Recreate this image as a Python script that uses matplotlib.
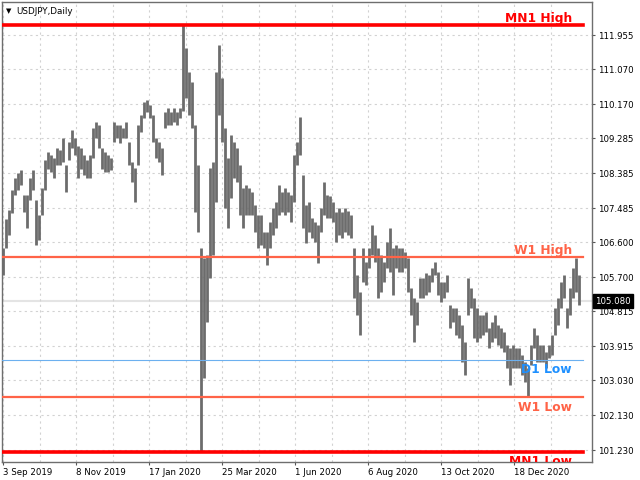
import numpy as np
import matplotlib
matplotlib.use("Agg")
import matplotlib.pyplot as plt
import matplotlib.transforms as mtransforms
from matplotlib.ticker import FixedLocator, FixedFormatter, NullFormatter

# ---------------- data ----------------
chart_title = "USDJPY,Daily"

# each bar = about two trading days, high / low prices
highs = [
    106.45, 107.20, 107.43, 107.95, 108.26, 108.40, 108.47, 107.82, 107.82, 108.26,
    108.47, 107.70, 107.30, 108.00, 108.72, 108.93, 108.85, 108.78, 109.03, 108.98,
    109.29, 108.60, 109.19, 109.50, 109.29, 109.10, 109.03, 108.85, 108.72, 108.85,
    109.55, 109.70, 109.63, 109.03, 108.93, 108.85, 108.78, 109.70, 109.63, 109.63,
    109.55, 109.70, 109.19, 108.67, 108.52, 109.63, 109.90, 110.22, 110.27, 110.15,
    109.90, 109.29, 109.19, 109.03, 109.96, 110.07, 109.96, 110.07, 109.96, 110.07,
    112.22, 111.62, 111.00, 110.74, 109.63, 108.60, 106.45, 106.20, 106.27, 108.52,
    108.67, 111.00, 111.70, 110.84, 109.55, 108.78, 109.37, 109.19, 109.03, 108.60,
    108.00, 108.08, 108.00, 107.90, 107.56, 107.30, 107.30, 106.86, 106.86, 107.12,
    107.48, 107.63, 108.08, 107.90, 108.00, 107.90, 107.82, 108.85, 109.19, 109.83,
    108.34, 107.56, 107.63, 107.23, 107.12, 107.05, 107.48, 108.15, 107.82, 107.80,
    107.63, 107.38, 107.48, 107.38, 107.48, 107.40, 107.30, 106.45, 105.75, 105.31,
    106.45, 106.09, 106.45, 107.05, 106.79, 106.45, 106.27, 106.09, 106.60, 106.97,
    106.45, 106.53, 106.45, 106.45, 106.35, 106.19, 105.42, 105.16, 105.06, 105.68,
    105.68, 105.80, 105.75, 105.93, 106.09, 105.83, 105.57, 105.57, 105.75, 104.98,
    104.90, 104.90, 104.72, 104.46, 104.02, 105.68, 105.42, 105.16, 104.90, 104.72,
    104.72, 104.80, 104.38, 104.54, 104.72, 104.46, 104.38, 104.28, 103.94, 103.87,
    103.94, 103.87, 103.87, 103.68, 103.50, 103.35, 103.94, 104.38, 104.20, 103.94,
    103.94, 103.76, 103.94, 104.20, 104.90, 105.16, 105.57, 105.75, 104.90, 105.42,
    105.93, 106.19, 105.75,
]
lows = [
    105.75, 106.45, 106.80, 107.35, 107.82, 107.95, 108.08, 107.38, 106.97, 107.70,
    107.95, 106.53, 106.66, 107.30, 107.95, 108.50, 108.42, 108.26, 108.60, 108.60,
    108.67, 107.90, 108.72, 109.03, 108.85, 108.26, 108.50, 108.34, 108.26, 108.26,
    108.78, 109.29, 109.03, 108.50, 108.42, 108.42, 108.47, 109.19, 109.29, 109.16,
    109.29, 109.29, 108.60, 108.15, 107.63, 108.60, 109.45, 109.81, 109.96, 109.81,
    109.19, 108.78, 108.67, 108.34, 109.55, 109.63, 109.63, 109.70, 109.63, 109.81,
    110.00, 110.33, 109.90, 109.55, 107.38, 106.86, 101.18, 103.10, 104.54, 105.68,
    106.27, 107.63, 109.90, 109.19, 107.48, 106.97, 107.75, 108.26, 108.15, 107.30,
    106.97, 107.30, 107.30, 107.30, 106.86, 106.45, 106.53, 106.45, 106.01, 106.45,
    106.79, 106.97, 107.30, 107.38, 107.30, 107.38, 107.12, 107.63, 108.60, 108.85,
    106.97, 106.58, 106.86, 106.71, 106.60, 106.06, 106.86, 107.30, 107.23, 107.23,
    107.12, 106.60, 106.79, 106.71, 106.86, 106.80, 106.71, 105.16, 104.72, 104.20,
    105.57, 105.49, 105.93, 106.27, 106.09, 105.16, 105.31, 105.57, 105.93, 105.83,
    105.24, 105.93, 105.83, 105.83, 105.93, 105.31, 104.72, 104.02, 104.46, 105.16,
    105.16, 105.24, 105.31, 105.57, 105.75, 105.24, 105.06, 105.16, 105.31, 104.38,
    104.54, 104.20, 104.12, 103.50, 103.17, 104.72, 104.90, 104.12, 104.02, 104.12,
    104.20, 104.28, 103.87, 104.02, 104.12, 103.94, 103.87, 103.76, 103.35, 102.91,
    103.35, 103.35, 103.35, 103.17, 102.99, 102.60, 103.42, 103.87, 103.50, 103.50,
    103.50, 103.35, 103.60, 103.68, 104.20, 104.46, 104.90, 105.16, 104.38, 104.72,
    105.16, 105.31, 104.98,
]

date_labels = ["3 Sep 2019", "8 Nov 2019", "17 Jan 2020", "25 Mar 2020",
               "1 Jun 2020", "6 Aug 2020", "13 Oct 2020", "18 Dec 2020"]
price_ticks = [111.955, 111.070, 110.170, 109.285, 108.385, 107.485, 106.600,
               105.700, 104.815, 103.915, 103.030, 102.130, 101.230]

level_names = ["MN1 High", "W1 High", "D1 Low", "W1 Low", "MN1 Low"]
level_values = [112.22, 106.22, 103.56, 102.59, 101.19]
current_price = 105.080

# ---------------- styling ----------------
plt.rcParams['font.family'] = ['DejaVu Sans']

BARS_PER_LABEL = 73 / 3.0          # spacing of the date labels in bar units
Y_MIN, Y_MAX = 100.92, 112.81

level_style = {
    "MN1 High": dict(line="#ff0000", text="#ff0000", lw=2.6, above=True),
    "W1 High": dict(line="#ff6347", text="#ff6347", lw=1.6, above=True),
    "D1 Low": dict(line="#6cb0ef", text="#1e90ff", lw=0.8, above=False),
    "W1 Low": dict(line="#ff6347", text="#ff6347", lw=1.6, above=False),
    "MN1 Low": dict(line="#ff0000", text="#ff0000", lw=2.6, above=False),
}

fig = plt.figure(figsize=(6.4, 4.8), dpi=100)
fig.patch.set_facecolor("white")
ax = fig.add_axes([2 / 640, 18 / 480, 590 / 640, 460 / 480])
ax.set_facecolor("white")

n = len(highs)
x = np.arange(n)
ax.set_xlim(-1 / 3.0, 590 / 3.0 - 1 / 3.0)
ax.set_ylim(Y_MIN, Y_MAX)

# grid
major_x = np.arange(len(date_labels)) * BARS_PER_LABEL
minor_x = major_x + BARS_PER_LABEL / 2
ax.xaxis.set_major_locator(FixedLocator(major_x))
ax.xaxis.set_major_formatter(FixedFormatter(date_labels))
ax.xaxis.set_minor_locator(FixedLocator(minor_x))
ax.xaxis.set_minor_formatter(NullFormatter())
ax.yaxis.set_major_locator(FixedLocator(price_ticks))
ax.yaxis.set_major_formatter(FixedFormatter([f"{v:.3f}" for v in price_ticks]))
ax.grid(True, which="both", axis="x", color="#d2d2d2", lw=0.8, ls=(0, (2, 3)), zorder=0)
ax.grid(True, which="major", axis="y", color="#d2d2d2", lw=0.8, ls=(0, (2, 3)), zorder=0)

# current price line
ax.axhline(current_price, color="#e4e4e4", lw=1.5, zorder=1)

# bars
ax.vlines(x, lows, highs, color="#6c6c6c", lw=2.0, zorder=3)

# levels
line_end = (583 - 2) / 590
text_x = (572 - 2) / 590
for name, val in zip(level_names, level_values):
    st = level_style[name]
    ax.axhline(val, xmin=0, xmax=line_end, color=st["line"], lw=st["lw"], zorder=4)
    off = 2.2 if st["above"] else -9.6
    ax.annotate(name, xy=(text_x, val), xycoords=("axes fraction", "data"),
                xytext=(0, off), textcoords="offset points",
                ha="right", va="baseline", fontsize=8.8, fontweight="bold",
                color=st["text"], zorder=5, annotation_clip=False, clip_on=True)

# axes styling
ax.yaxis.tick_right()
ax.tick_params(axis="both", which="major", length=2.5, width=0.8, color="#555555",
               labelsize=6.2, labelcolor="black", pad=1.5)
ax.tick_params(axis="x", which="minor", length=0)
for lab in ax.get_xticklabels():
    lab.set_ha("left")
for s in ax.spines.values():
    s.set_color("#6e6e6e")
    s.set_linewidth(1.0)

# current price tag
trans = mtransforms.blended_transform_factory(ax.transAxes, ax.transData)
ax.text(1.0 + 3 / 590, current_price, f"{current_price:.3f}", transform=trans,
        ha="left", va="center", fontsize=6.2, color="white", zorder=10,
        bbox=dict(facecolor="black", edgecolor="black", boxstyle="square,pad=0.25"),
        clip_on=False)

# title
ax.text(4 / 590, 1 - 9 / 460, "\u25BC", transform=ax.transAxes, fontsize=5,
        va="center", ha="left", color="black")
ax.text(14 / 590, 1 - 9 / 460, chart_title, transform=ax.transAxes, fontsize=6.3,
        va="center", ha="left", color="black")

fig.savefig("out.png", dpi=100, facecolor="white")
